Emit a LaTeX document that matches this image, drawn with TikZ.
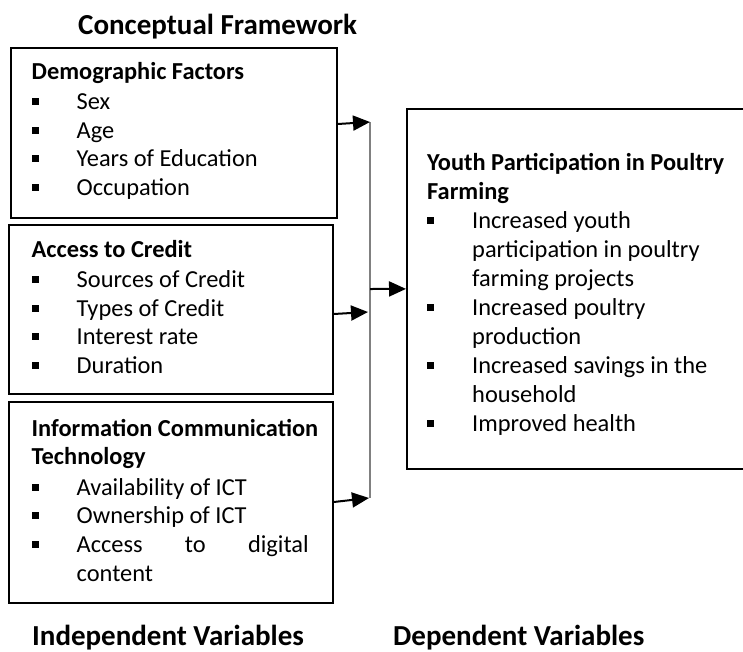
\documentclass[tikz,border=0pt]{standalone}
\usepackage{fontspec}
\setmainfont{Carlito}
\usetikzlibrary{arrows.meta,calc}
\newcommand\bsq{\rule[4.5pt]{7pt}{7pt}}
\newcommand\itm[1]{\makebox[45pt][l]{\bsq}#1}
\newcommand\cnt[1]{\hspace*{45pt}#1}
\begin{document}
\begin{tikzpicture}[x=1pt,y=-1pt]
\tikzset{
 box/.style={draw, line width=1.8pt, rectangle, inner sep=0pt, anchor=north west},
 txt/.style={anchor=base west, inner sep=0pt, font=\fontsize{24.4pt}{28.6pt}\selectfont},
 txtr/.style={anchor=base west, inner sep=0pt, font=\fontsize{24.4pt}{29pt}\selectfont},
 ttl/.style={anchor=base west, inner sep=0pt, font=\fontsize{29pt}{34pt}\selectfont\bfseries},
 arr/.style={-{Triangle[length=17pt,width=15pt]}, line width=2pt},
 bus/.style={draw=gray, line width=1.5pt}
}
\useasboundingbox (0,0) rectangle (743,651);

\node[ttl] (title) at (78,34) {Conceptual Framework};

\node[box, minimum width=326pt, minimum height=170pt] (demo) at (10,47) {};
\node[box, minimum width=324pt, minimum height=169pt] (credit) at (8,224) {};
\node[box, minimum width=324pt, minimum height=201pt] (ict) at (8,401) {};
\node[box, minimum width=344pt, minimum height=360pt] (youth) at (406,108) {};

\node[txt] (demoT) at (31.5,79) {\parbox[t]{300pt}{\textbf{Demographic Factors}\\[2pt]
\itm{Sex}\\
\itm{Age}\\
\itm{Years of Education}\\
\itm{Occupation}}};

\node[txt] (creditT) at (31.5,257) {\parbox[t]{300pt}{\textbf{Access to Credit}\\[2pt]
\itm{Sources of Credit}\\
\itm{Types of Credit}\\
\itm{Interest rate}\\
\itm{Duration}}};

\node[txt] (ictT) at (31.5,436) {\parbox[t]{300pt}{\textbf{Information Communication}\\
\textbf{Technology}\\[2pt]
\itm{Availability of ICT}\\
\itm{Ownership of ICT}\\
\itm{\hbox to 232pt{Access\hfill to\hfill digital}}\\
\cnt{content}}};

\node[txtr] (youthT) at (427,170) {\parbox[t]{310pt}{\textbf{Youth Participation in Poultry}\\
\textbf{Farming}\\
\itm{Increased youth}\\
\cnt{participation in poultry}\\
\cnt{farming projects}\\
\itm{Increased poultry}\\
\cnt{production}\\
\itm{Increased savings in the}\\
\cnt{household}\\
\itm{Improved health}}};

\node[ttl] (indep) at (32,645) {Independent Variables};
\node[ttl] (dep) at (393,645) {Dependent Variables};

\coordinate (j1) at (370,122);
\coordinate (j2) at (368,312);
\coordinate (j3) at (369,498);
\coordinate (btop) at (370,122);
\coordinate (bbot) at (370,498);
\coordinate (bmid) at (370,289);

\draw[bus] (btop) -- (bbot);
\draw[arr] ($(demo.north east)+(0,77)$) -- (j1);
\draw[arr] ($(credit.north east)+(0,90)$) -- (j2);
\draw[arr] ($(ict.north east)+(0,101)$) -- (j3);
\draw[arr] (bmid) -- (youth.west);
\end{tikzpicture}
\end{document}
